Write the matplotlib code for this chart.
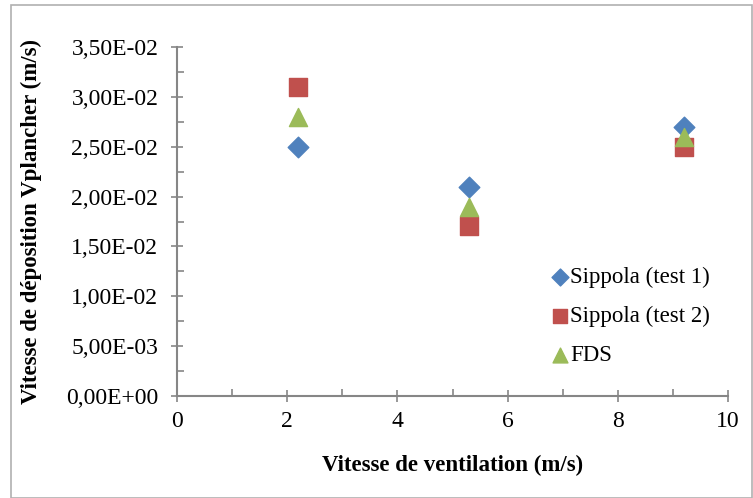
import matplotlib
matplotlib.use("Agg")
import matplotlib.pyplot as plt
from matplotlib.patches import Rectangle
from matplotlib.ticker import MultipleLocator, FuncFormatter

plt.rcParams['font.family'] = ['Liberation Serif', 'DejaVu Serif']

# donnees
vitesse = [2.2, 5.3, 9.2]
test1 = [0.025, 0.021, 0.027]
test2 = [0.031, 0.017, 0.025]
fds = [0.028, 0.019, 0.026]

fig = plt.figure(figsize=(7.53, 4.98), dpi=100)
ax = fig.add_axes([0.2351, 0.2048, 0.7317, 0.7008])

ax.scatter(vitesse, test1, marker='D', s=110, color='#4F81BD', label='Sippola (test 1)', zorder=3)
ax.scatter(vitesse, test2, marker='s', s=170, color='#C0504D', label='Sippola (test 2)', zorder=3)
ax.scatter(vitesse, fds, marker='^', s=170, color='#9BBB59', label='FDS', zorder=3)

ax.set_xlim(0, 10)
ax.set_ylim(0, 0.035)
ax.xaxis.set_major_locator(MultipleLocator(2))
ax.xaxis.set_minor_locator(MultipleLocator(1))
ax.yaxis.set_major_locator(MultipleLocator(0.005))
ax.yaxis.set_minor_locator(MultipleLocator(0.0025))
ax.yaxis.set_major_formatter(FuncFormatter(lambda v, p: f"{v:.2E}".replace('.', ',')))

for s in ['top', 'right']:
    ax.spines[s].set_visible(False)
for s in ['left', 'bottom']:
    ax.spines[s].set_color('#868686')
    ax.spines[s].set_linewidth(1.5)
ax.tick_params(which='major', direction='inout', length=9, width=1.2, color='#868686',
               labelsize=17, pad=6)
ax.tick_params(axis='y', which='major', pad=9)
ax.tick_params(which='minor', direction='in', length=5, width=1.2, color='#868686')

ax.set_xlabel('Vitesse de ventilation (m/s)', fontsize=16.5, fontweight='bold', labelpad=17)
ax.set_ylabel('Vitesse de déposition Vplancher (m/s)', fontsize=16.5, fontweight='bold', labelpad=17)

ax.legend(loc='upper left', bbox_to_anchor=(0.66, 0.404), frameon=False, fontsize=16.5,
          handlelength=0.7, handletextpad=0.1, labelspacing=0.78, borderpad=0,
          markerscale=0.82)

fig.patches.append(Rectangle((11/753, 0.5/498), 741/753, 492/498, transform=fig.transFigure,
                             fill=False, edgecolor='#b0b0b0', linewidth=1.2))

fig.savefig('out.png', dpi=100)
